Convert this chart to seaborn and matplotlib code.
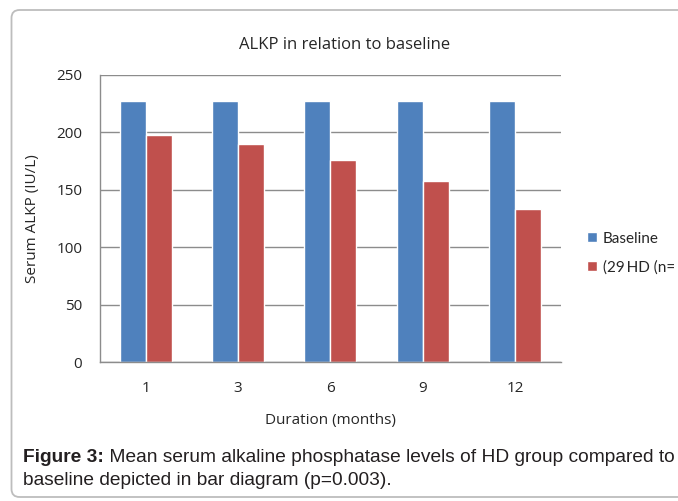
import matplotlib
matplotlib.use("Agg")
import matplotlib.pyplot as plt
from matplotlib.patches import FancyBboxPatch
import seaborn as sns
import pandas as pd

# Values
months = ['1', '3', '6', '9', '12']
baseline = [227, 227, 227, 227, 227]
hd_group = [198, 190, 176, 158, 133]
series_names = ['Baseline', '(29\u2009HD (n=']
y_ticks = [0, 50, 100, 150, 200, 250]

df = pd.DataFrame({
    'month': months * 2,
    'alkp': baseline + hd_group,
    'group': [series_names[0]] * len(months) + [series_names[1]] * len(months),
})

sns.set_style('white')
plt.rcParams['font.family'] = ['Open Sans', 'DejaVu Sans']

fig = plt.figure(figsize=(6.78, 5.01), dpi=100)
ax = fig.add_axes([0.1468, 0.2774, 0.681, 0.573])

# rounded frame around chart + caption (coords in inches)
frame = FancyBboxPatch((0.115, 0.04), 7.0, 4.87, boxstyle='round,pad=0,rounding_size=0.08',
                       transform=fig.dpi_scale_trans, facecolor='none',
                       edgecolor='#bdbdbd', linewidth=1.3)
fig.patches.append(frame)

sns.barplot(data=df, x='month', y='alkp', hue='group', order=months,
            palette=['#4F81BD', '#C0504D'], width=0.565, saturation=1, ax=ax)

ax.set_ylim(0, 250)
ax.set_xlim(-0.5, len(months) - 0.5)
ax.set_yticks(y_ticks)
ax.yaxis.grid(True, color='#8c8c8c', linewidth=1)
ax.set_axisbelow(True)
for s in ['top', 'right']:
    ax.spines[s].set_visible(False)
for s in ['left', 'bottom']:
    ax.spines[s].set_color('#8c8c8c')
    ax.spines[s].set_linewidth(1)

ax.tick_params(axis='y', which='major', length=0, labelsize=11, pad=12.5)
ax.tick_params(axis='x', which='major', length=0, labelsize=11, pad=14)
ax.set_xticks([i - 0.5 for i in range(len(months) + 1)], minor=True)
ax.tick_params(axis='x', which='minor', length=5, color='#8c8c8c', width=1)

ax.set_title('ALKP in relation to baseline', fontsize=12, pad=19, x=0.531)
ax.set_xlabel('Duration (months)', fontsize=11, labelpad=12)
ax.set_ylabel('Serum ALKP (IU/L)', fontsize=11, labelpad=12)

ax.legend(loc='center left', bbox_to_anchor=(1.056, 0.38), frameon=False,
          prop={'family': ['Lato', 'DejaVu Sans'], 'size': 11},
          handlelength=0.62, handleheight=0.62, handletextpad=0.4,
          labelspacing=0.95, borderpad=0, borderaxespad=0)

# caption: bold lead-in followed by regular text
cap_kw = dict(fontsize=13.75, family='Liberation Sans', color='#231f20', va='baseline')
t1 = fig.text(23 / 678, 1 - 462 / 501, 'Figure 3:', fontweight='bold', **cap_kw)
renderer = fig.canvas.get_renderer()
x_end = fig.transFigure.inverted().transform(t1.get_window_extent(renderer))[1][0]
fig.text(x_end, 1 - 462 / 501, ' Mean serum alkaline phosphatase levels of HD group compared to', **cap_kw)
fig.text(23 / 678, 1 - 485 / 501, 'baseline depicted in bar diagram (p=0.003).', **cap_kw)

fig.savefig('out.png', dpi=100)
